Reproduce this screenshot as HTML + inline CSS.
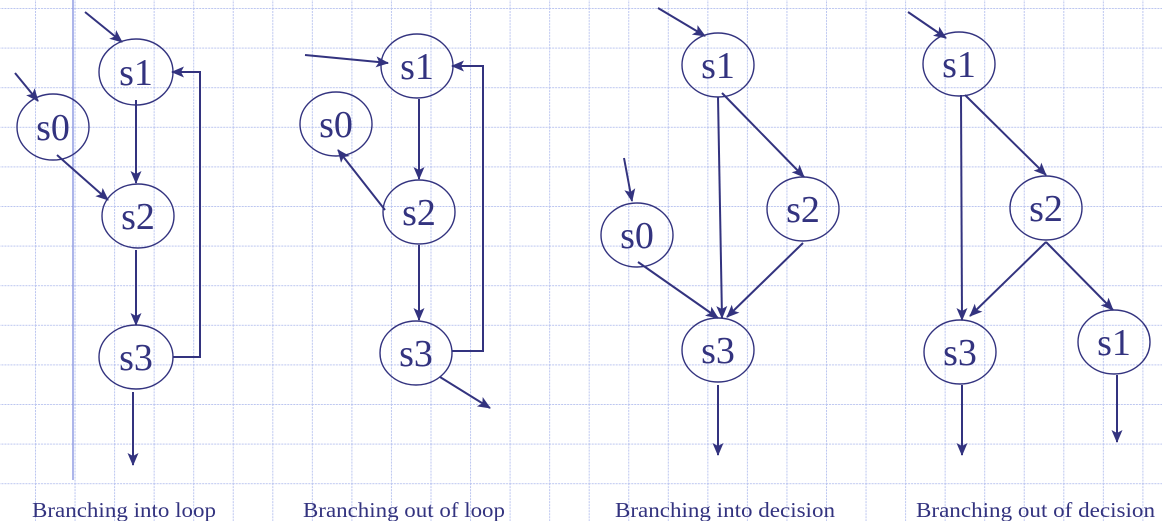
<!DOCTYPE html>
<html><head><style>
html,body{margin:0;padding:0;background:#fff;}
svg{display:block;}
text{font-family:"Liberation Serif",serif;fill:#33337f;}
</style></head><body>
<svg width="1162" height="521" viewBox="0 0 1162 521" xmlns="http://www.w3.org/2000/svg">
<defs>
<pattern id="g" x="35" y="8" width="39.55" height="39.6" patternUnits="userSpaceOnUse">
<path d="M0 0V39.6M0 0H39.55" stroke="#bcc6f0" stroke-width="2" stroke-dasharray="2 1" fill="none"/>
</pattern>
<marker id="a" markerWidth="13" markerHeight="12" refX="12" refY="6" orient="auto" markerUnits="userSpaceOnUse">
<path d="M0 0.5L13 6L0 11.5L3 6Z" fill="#33337f"/>
</marker>
</defs>
<rect width="1162" height="521" fill="url(#g)"/>
<line x1="73" y1="0" x2="73" y2="480" stroke="#8a96e0" stroke-width="1.4"/>
<g stroke="#33337f" stroke-width="2" fill="none" marker-end="url(#a)">
<line x1="85" y1="12" x2="122" y2="42"/>
<line x1="15" y1="73" x2="38" y2="101"/>
<line x1="136" y1="100" x2="136" y2="183"/>
<line x1="57" y1="155" x2="108" y2="200"/>
<line x1="136" y1="250" x2="136" y2="325"/>
<polyline points="173,357 200,357 200,72 172,72"/>
<line x1="133" y1="392" x2="133" y2="465"/>
<line x1="305" y1="55" x2="388" y2="63"/>
<line x1="419" y1="99" x2="419" y2="179"/>
<line x1="385" y1="210" x2="338" y2="150"/>
<line x1="419" y1="245" x2="419" y2="320"/>
<polyline points="452,351 483,351 483,66 452,66"/>
<line x1="440" y1="377" x2="490" y2="408"/>
<line x1="658" y1="8" x2="705" y2="36"/>
<line x1="718" y1="97" x2="722" y2="318"/>
<line x1="722" y1="93" x2="804" y2="177"/>
<line x1="803" y1="243" x2="727" y2="317"/>
<line x1="638" y1="262" x2="718" y2="318"/>
<line x1="624" y1="158" x2="632" y2="201"/>
<line x1="718" y1="385" x2="718" y2="455"/>
<line x1="908" y1="12" x2="946" y2="38"/>
<line x1="961" y1="95" x2="962" y2="320"/>
<line x1="965" y1="95" x2="1046" y2="175"/>
<line x1="1046" y1="242" x2="970" y2="316"/>
<line x1="1046" y1="242" x2="1113" y2="310"/>
<line x1="962" y1="385" x2="962" y2="455"/>
<line x1="1117" y1="375" x2="1117" y2="442"/>
</g>
<g stroke="#33337f" stroke-width="1.4" fill="none">
<ellipse cx="136" cy="72" rx="37" ry="33"/>
<ellipse cx="53" cy="127" rx="36" ry="33"/>
<ellipse cx="138" cy="216" rx="36" ry="32"/>
<ellipse cx="136" cy="357" rx="37" ry="32"/>
<ellipse cx="417" cy="66" rx="36" ry="32"/>
<ellipse cx="336" cy="124" rx="36" ry="32"/>
<ellipse cx="419" cy="212" rx="36" ry="32"/>
<ellipse cx="416" cy="353" rx="36" ry="32"/>
<ellipse cx="718" cy="65" rx="36" ry="32"/>
<ellipse cx="803" cy="209" rx="36" ry="32"/>
<ellipse cx="637" cy="235" rx="36" ry="32"/>
<ellipse cx="718" cy="350" rx="36" ry="32"/>
<ellipse cx="959" cy="64" rx="36" ry="32"/>
<ellipse cx="1046" cy="208" rx="36" ry="32"/>
<ellipse cx="960" cy="352" rx="36" ry="32"/>
<ellipse cx="1114" cy="342" rx="36" ry="32"/>
</g>
<g font-size="38" text-anchor="middle">
<text x="136" y="85">s1</text>
<text x="53" y="140">s0</text>
<text x="138" y="229">s2</text>
<text x="136" y="370">s3</text>
<text x="417" y="79">s1</text>
<text x="336" y="137">s0</text>
<text x="419" y="225">s2</text>
<text x="416" y="366">s3</text>
<text x="718" y="78">s1</text>
<text x="803" y="222">s2</text>
<text x="637" y="248">s0</text>
<text x="718" y="363">s3</text>
<text x="959" y="77">s1</text>
<text x="1046" y="221">s2</text>
<text x="960" y="365">s3</text>
<text x="1114" y="355">s1</text>
</g>
<g font-size="21">
<text x="32" y="517" textLength="184" lengthAdjust="spacingAndGlyphs">Branching into loop</text>
<text x="303" y="517" textLength="202" lengthAdjust="spacingAndGlyphs">Branching out of loop</text>
<text x="615" y="517" textLength="220" lengthAdjust="spacingAndGlyphs">Branching into decision</text>
<text x="916" y="517" textLength="239" lengthAdjust="spacingAndGlyphs">Branching out of decision</text>
</g>
</svg>
</body></html>
